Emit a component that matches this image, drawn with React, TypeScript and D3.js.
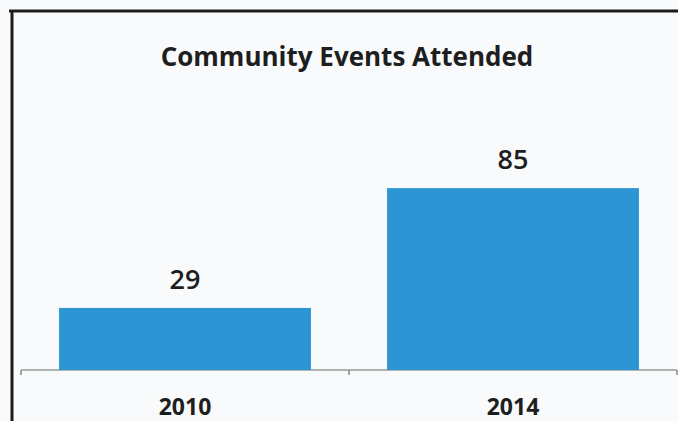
import * as React from 'react';
import { scaleBand, scaleLinear } from 'd3';

const years = ['2010', '2014'];
const events = [29, 85];
const title = 'Community Events Attended';

const width = 678;
const height = 421;
const axisY = 370;
const font = '"Open Sans", "DejaVu Sans", sans-serif';

const xScale = scaleBand<string>()
    .domain(years)
    .range([21, 677])
    .paddingInner(0.232)
    .paddingOuter(0.116);

const yScale = scaleLinear()
    .domain([0, 100])
    .range([axisY, axisY - 214]);

const App = () => {
    const bars = years.map((yr, i) => (
        <g key={yr}>
            <rect
                x={xScale(yr)!}
                y={yScale(events[i])}
                width={xScale.bandwidth()}
                height={axisY - yScale(events[i])}
                fill='#2e95d5'
            />
            <text
                x={xScale(yr)! + xScale.bandwidth() / 2}
                y={yScale(events[i]) - 19}
                textAnchor='middle'
                fontSize={27}
                fontWeight={600}
                fill='#1e1e1e'
            >
                {events[i]}
            </text>
            <text
                x={xScale(yr)! + xScale.bandwidth() / 2}
                y={415}
                textAnchor='middle'
                fontSize={23}
                fontWeight={700}
                fill='#1e1e1e'
            >
                {yr}
            </text>
        </g>
    ));

    // tick marks at band edges
    const ticks = [21, 21 + xScale.step(), 677].map((t, i) => (
        <line key={i} x1={t} x2={t} y1={axisY} y2={axisY + 5} stroke='#8a8a8a' strokeWidth={1.5} />
    ));

    return (
        <svg
            width={width}
            height={height}
            style={{ position: 'absolute', left: 0, top: 0, fontFamily: font }}
        >
            <rect x={0} y={0} width={width} height={height} fill='#f8fafc' />
            <line x1={9} x2={678} y1={11} y2={11} stroke='#1c1c1c' strokeWidth={3} />
            <line x1={12} x2={12} y1={10} y2={421} stroke='#1c1c1c' strokeWidth={3} />
            <text
                x={347}
                y={66}
                textAnchor='middle'
                fontSize={26}
                fontWeight={700}
                fill='#1e1e1e'
            >
                {title}
            </text>
            <line x1={21} x2={677} y1={axisY} y2={axisY} stroke='#9a9a9a' strokeWidth={1.5} />
            {ticks}
            {bars}
        </svg>
    );
};

export default App;
